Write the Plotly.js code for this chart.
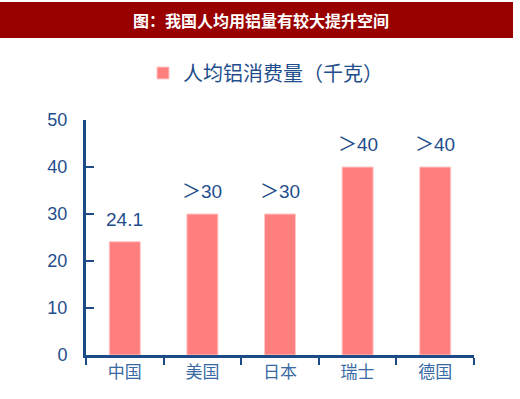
<!DOCTYPE html>
<html>
<head>
<meta charset="utf-8">
<script src="https://cdn.plot.ly/plotly-3.0.1.min.js"></script>
<style>html,body{margin:0;padding:0;background:#fff;}#chart{width:520px;height:399px;}</style>
</head>
<body>
<div id="chart"></div>
<script>
const categories = ["中国", "美国", "日本", "瑞士", "德国"];
const values = [24.1, 30, 30, 40, 40];
const valueLabels = ["24.1", "＞30", "＞30", "＞40", "＞40"];
const seriesName = "人均铝消费量（千克）";
const chartTitle = "图：我国人均用铝量有较大提升空间";
const yTicks = [0, 10, 20, 30, 40, 50];

const axisColor = "#1c4a86";
const textColor = "#1f4e8c";

const trace = {
  type: "bar",
  x: categories,
  y: values,
  name: seriesName,
  marker: {color: "#ff7f7f", line: {color: "#ffc8c8", width: 1}},
  width: 0.4,
  showlegend: true,
  hoverinfo: "none"
};

const annotations = categories.map((c, i) => ({
  x: c, y: values[i], xref: "x", yref: "y",
  text: valueLabels[i], showarrow: false,
  yanchor: "bottom", yshift: 10,
  font: {family: "Liberation Sans, Arial, 'Noto Sans CJK SC'", size: 19, color: textColor}
}));

annotations.push({
  xref: "paper", yref: "paper", x: (261 - 86) / 388, y: (355 - 20) / 235,
  text: "<b>" + chartTitle + "</b>", showarrow: false,
  xanchor: "center", yanchor: "middle",
  font: {family: "'Noto Sans CJK SC', sans-serif", size: 16, color: "#ffffff"}
});

const layout = {
  width: 520, height: 399,
  margin: {l: 86, r: 46, t: 120, b: 44, pad: 0},
  paper_bgcolor: "#ffffff", plot_bgcolor: "#ffffff",
  showlegend: true,
  legend: {
    orientation: "h", x: (143 - 86) / 388, xanchor: "left",
    y: (355 - 73) / 235, yanchor: "middle",
    font: {family: "'Noto Sans CJK SC', sans-serif", size: 20, color: textColor},
    itemwidth: 30
  },
  xaxis: {
    type: "category",
    showline: true, linecolor: axisColor, linewidth: 3,
    ticks: "outside", ticklen: 7, tickwidth: 2, tickcolor: axisColor,
    tickson: "boundaries",
    showgrid: false, zeroline: false,
    tickfont: {family: "'Noto Sans CJK SC', serif", size: 17, color: "#3a6aa3"}
  },
  yaxis: {
    range: [0, 50], tickvals: yTicks,
    showline: true, linecolor: axisColor, linewidth: 3,
    ticks: "inside", ticklen: 8, tickwidth: 2, tickcolor: axisColor,
    showgrid: false, zeroline: false,
    ticklabelstandoff: 12,
    tickfont: {family: "Liberation Sans, Arial, sans-serif", size: 18, color: textColor}
  },
  shapes: [{
    type: "rect", xref: "paper", yref: "paper",
    x0: (0 - 86) / 388, x1: (513 - 86) / 388,
    y0: (355 - 38) / 235, y1: (355 - 2) / 235,
    fillcolor: "#990000", line: {width: 0}, layer: "below"
  }],
  annotations: annotations
};

Plotly.newPlot("chart", [trace], layout, {displayModeBar: false, staticPlot: true});
</script>
</body>
</html>
